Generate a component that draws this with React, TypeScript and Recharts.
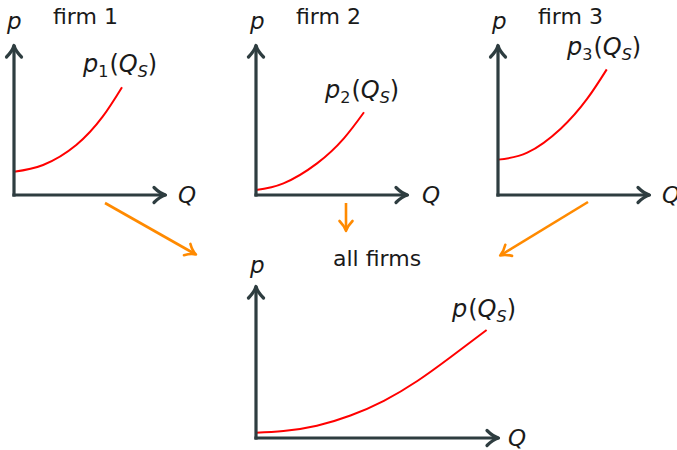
import React from 'react';
import { LineChart, Line, XAxis, YAxis } from 'recharts';

// supply curves, quantity (q) against price (p)
const firm1Q = [0, 1.94, 4.15, 5.91, 7.2];
const firm1P = [1.57, 2.03, 3.38, 5.29, 7.28];

const firm2Q = [0, 1.83, 4.07, 5.86, 7.2];
const firm2P = [0.34, 0.79, 2.14, 3.83, 5.59];

const firm3Q = [0, 1.95, 4.18, 5.95, 7.25];
const firm3P = [2.39, 2.86, 4.48, 6.51, 8.49];

const marketQ = [0, 1.82, 4.04, 6.27, 8.49, 10.71, 12.93, 15.31];
const marketP = [0.35, 0.46, 0.82, 1.5, 2.48, 3.8, 5.4, 7.2];

const firmTitles = ['firm 1', 'firm 2', 'firm 3'];
const marketTitle = 'all firms';

const AXIS = '#2e3d40';
const CURVE = '#ff0000';
const ARROW = '#ff8a00';
const INK = '#1a1a1a';
const FONT = '"DejaVu Sans", sans-serif';

const PAD = 16;

const toRows = (qs: number[], ps: number[]) => qs.map((q, i) => ({ q, p: ps[i] }));

type PanelProps = {
  left: number;
  top: number;
  xLen: number;
  yLen: number;
  xMax: number;
  yMax: number;
  rows: { q: number; p: number }[];
};

// one p-Q panel; left/top is the corner of the plot area
const Panel = ({ left, top, xLen, yLen, xMax, yMax, rows }: PanelProps) => (
  <div style={{ position: 'absolute', left: left - PAD, top: top - PAD }}>
    <LineChart
      width={xLen + PAD * 2}
      height={yLen + PAD * 2}
      data={rows}
      margin={{ top: PAD, right: PAD, bottom: PAD - 1, left: PAD - 1 }}
    >
      <XAxis
        type="number"
        dataKey="q"
        domain={[0, xMax]}
        height={1}
        tick={false}
        tickLine={false}
        axisLine={{ stroke: AXIS, strokeWidth: 3.2, strokeLinecap: 'square', markerEnd: 'url(#axisHead)' }}
      />
      <YAxis
        type="number"
        domain={[0, yMax]}
        width={1}
        tick={false}
        tickLine={false}
        axisLine={{ stroke: AXIS, strokeWidth: 3.2, strokeLinecap: 'square', markerStart: 'url(#axisHead)' }}
      />
      <Line
        type="natural"
        dataKey="p"
        stroke={CURVE}
        strokeWidth={2}
        dot={false}
        isAnimationActive={false}
      />
    </LineChart>
  </div>
);

// p_k(Q_S) style label
const CurveLabel = ({ x, y, sub }: { x: number; y: number; sub?: string }) => (
  <text x={x} y={y} fontSize={24} fontFamily={FONT} fill={INK}>
    <tspan fontStyle="italic">p</tspan>
    {sub ? <tspan fontSize={16} dy={5}>{sub}</tspan> : null}
    <tspan dy={sub ? -5 : 0} dx={1}>(</tspan>
    <tspan fontStyle="italic">Q</tspan>
    <tspan fontSize={16} fontStyle="italic" dy={5}>S</tspan>
    <tspan dy={-5}>)</tspan>
  </text>
);

const AxisName = ({ x, y, t }: { x: number; y: number; t: string }) => (
  <text x={x} y={y} fontSize={23} fontStyle="italic" fontFamily={FONT} fill={INK}>{t}</text>
);

export default function App() {
  return (
    <div style={{ position: 'absolute', left: 0, top: 0, width: 677, height: 450, background: '#fff', overflow: 'hidden' }}>
      <svg width={0} height={0} style={{ position: 'absolute' }}>
        <defs>
          <marker id="axisHead" viewBox="-14 -10 18 20" refX={0} refY={0} markerWidth={18} markerHeight={20}
            markerUnits="userSpaceOnUse" orient="auto-start-reverse" overflow="visible">
            <path d="M -10 -7.5 Q -4 -1.5 1.5 0 Q -4 1.5 -10 7.5" fill="none" stroke={AXIS} strokeWidth={3.2}
              strokeLinecap="round" strokeLinejoin="round" />
          </marker>
          <marker id="flowHead" viewBox="-14 -10 18 20" refX={0} refY={0} markerWidth={18} markerHeight={20}
            markerUnits="userSpaceOnUse" orient="auto" overflow="visible">
            <path d="M -9 -6.5 Q -4 -1.5 1 0 Q -4 1.5 -9 6.5" fill="none" stroke={ARROW} strokeWidth={2.6}
              strokeLinecap="round" strokeLinejoin="round" />
          </marker>
        </defs>
      </svg>

      <Panel left={14} top={47} xLen={150} yLen={148} xMax={10} yMax={10} rows={toRows(firm1Q, firm1P)} />
      <Panel left={256} top={47} xLen={150} yLen={148} xMax={10} yMax={10} rows={toRows(firm2Q, firm2P)} />
      <Panel left={498} top={47} xLen={150} yLen={148} xMax={10} yMax={10} rows={toRows(firm3Q, firm3P)} />
      <Panel left={256} top={288} xLen={241} yLen={150} xMax={16} yMax={10} rows={toRows(marketQ, marketP)} />

      <svg width={677} height={450} style={{ position: 'absolute', left: 0, top: 0, pointerEvents: 'none' }}>
        {/* panel titles */}
        <text x={53} y={24} fontSize={22} fontFamily={FONT} fill={INK}>{firmTitles[0]}</text>
        <text x={296} y={24} fontSize={22} fontFamily={FONT} fill={INK}>{firmTitles[1]}</text>
        <text x={538} y={24} fontSize={22} fontFamily={FONT} fill={INK}>{firmTitles[2]}</text>
        <text x={333} y={266} fontSize={22} fontFamily={FONT} fill={INK}>{marketTitle}</text>

        {/* axis names */}
        <AxisName x={7} y={29} t="p" />
        <AxisName x={250} y={29} t="p" />
        <AxisName x={492} y={29} t="p" />
        <AxisName x={250} y={273} t="p" />
        <AxisName x={178} y={203} t="Q" />
        <AxisName x={422} y={203} t="Q" />
        <AxisName x={662} y={203} t="Q" />
        <AxisName x={508} y={446} t="Q" />

        {/* curve labels */}
        <CurveLabel x={83} y={72} sub="1" />
        <CurveLabel x={325} y={98} sub="2" />
        <CurveLabel x={567} y={55} sub="3" />
        <CurveLabel x={452} y={317} />

        {/* aggregation arrows */}
        <line x1={105} y1={203} x2={195} y2={254} stroke={ARROW} strokeWidth={2.6} markerEnd="url(#flowHead)" />
        <line x1={346} y1={203} x2={346} y2={230} stroke={ARROW} strokeWidth={2.6} markerEnd="url(#flowHead)" />
        <line x1={588} y1={202} x2={501} y2={255} stroke={ARROW} strokeWidth={2.6} markerEnd="url(#flowHead)" />
      </svg>
    </div>
  );
}
